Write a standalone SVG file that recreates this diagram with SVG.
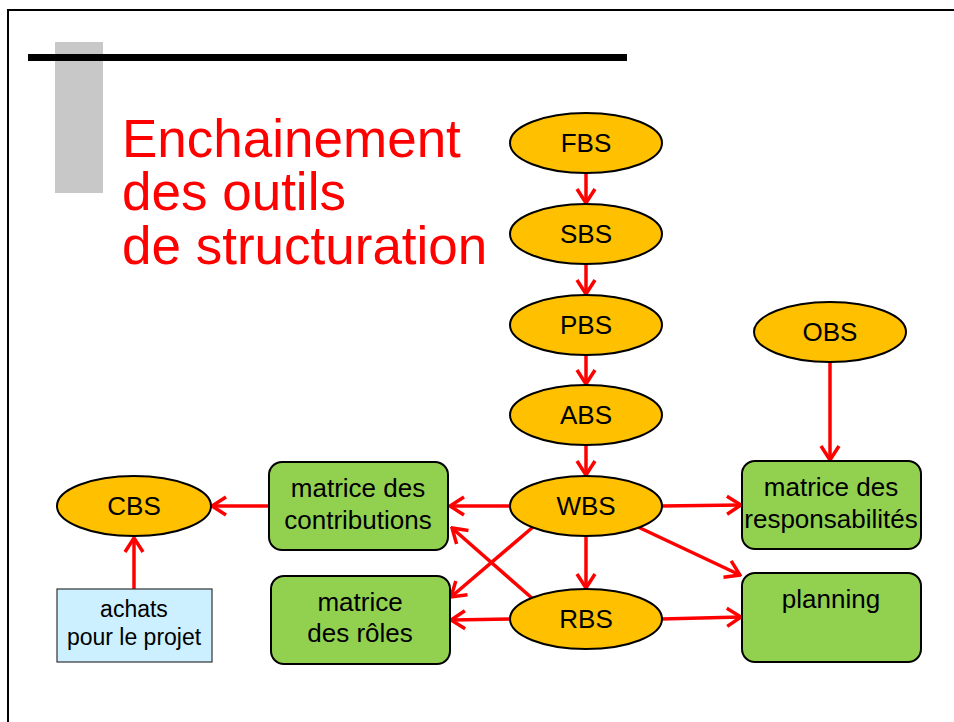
<svg xmlns="http://www.w3.org/2000/svg" width="954" height="722" viewBox="0 0 954 722">
<defs>
<marker id="ah" markerUnits="userSpaceOnUse" viewBox="0 0 18 22" markerWidth="18" markerHeight="22" refX="16" refY="11" orient="auto">
<path d="M2,2 L16,11 L2,20" fill="none" stroke="#FF0000" stroke-width="3.5" stroke-linejoin="miter"/>
</marker>
<style>
.ell{fill:#FFC000;stroke:#000;stroke-width:2}
.box{fill:#92D050;stroke:#000;stroke-width:2}
.lbl{font-family:"Liberation Sans",Arial,Helvetica,sans-serif;font-size:26px;fill:#000;text-anchor:middle}
.small{font-size:23px}
.con{stroke:#FF0000;stroke-width:3.5;fill:none;marker-end:url(#ah)}
.title{font-family:"Liberation Sans",Arial,Helvetica,sans-serif;font-size:53px;fill:#FF0000}
</style>
</defs>
<rect x="0" y="0" width="954" height="722" fill="#fff"/>
<rect x="8" y="10" width="970" height="740" fill="none" stroke="#000" stroke-width="2"/>
<rect x="55" y="42" width="48" height="151" fill="#C8C8C8"/>
<rect x="28" y="54" width="599" height="7" fill="#000"/>
<g id="title">
<text class="title" x="122" y="157">Enchainement</text>
<text class="title" x="122" y="210">des outils</text>
<text class="title" x="122" y="264">de structuration</text>
</g>
<g id="connectors">
<line class="con" x1="586" y1="173" x2="586" y2="203"/>
<line class="con" x1="586" y1="264" x2="586" y2="294"/>
<line class="con" x1="586" y1="355" x2="586" y2="384"/>
<line class="con" x1="586" y1="445" x2="586" y2="475"/>
<line class="con" x1="830" y1="362" x2="830" y2="460"/>
<line class="con" x1="661" y1="506" x2="741" y2="505"/>
<line class="con" x1="638" y1="527" x2="740" y2="575"/>
<line class="con" x1="586" y1="537" x2="586" y2="588"/>
<line class="con" x1="510" y1="506" x2="450" y2="506"/>
<line class="con" x1="533" y1="527" x2="451" y2="597"/>
<line class="con" x1="533" y1="599" x2="452" y2="528"/>
<line class="con" x1="510" y1="619" x2="451" y2="620"/>
<line class="con" x1="661" y1="619" x2="741" y2="617"/>
<line class="con" x1="269" y1="506" x2="212" y2="506"/>
<line class="con" x1="134" y1="589" x2="134" y2="538"/>
</g>
<g id="FBS"><ellipse class="ell" cx="586" cy="143" rx="76" ry="30"/><text class="lbl" x="586" y="152">FBS</text></g>
<g id="SBS"><ellipse class="ell" cx="586" cy="234" rx="76" ry="30"/><text class="lbl" x="586" y="243">SBS</text></g>
<g id="PBS"><ellipse class="ell" cx="586" cy="325" rx="76" ry="30"/><text class="lbl" x="586" y="334">PBS</text></g>
<g id="ABS"><ellipse class="ell" cx="586" cy="415" rx="76" ry="30"/><text class="lbl" x="586" y="424">ABS</text></g>
<g id="WBS"><ellipse class="ell" cx="586" cy="506" rx="76" ry="30"/><text class="lbl" x="586" y="515">WBS</text></g>
<g id="RBS"><ellipse class="ell" cx="586" cy="619" rx="76" ry="30"/><text class="lbl" x="586" y="628">RBS</text></g>
<g id="OBS"><ellipse class="ell" cx="830" cy="332" rx="76" ry="30"/><text class="lbl" x="830" y="341">OBS</text></g>
<g id="CBS"><ellipse class="ell" cx="134" cy="506" rx="77" ry="30"/><text class="lbl" x="134" y="515">CBS</text></g>
<g id="responsabilites"><rect class="box" x="742" y="461" width="179" height="88" rx="13"/><text class="lbl" x="831" y="496">matrice des</text><text class="lbl" x="831" y="528">responsabilités</text></g>
<g id="planning"><rect class="box" x="742" y="573" width="179" height="89" rx="13"/><text class="lbl" x="831" y="608">planning</text></g>
<g id="contributions"><rect class="box" x="269" y="462" width="179" height="88" rx="13"/><text class="lbl" x="358" y="497">matrice des</text><text class="lbl" x="358" y="529">contributions</text></g>
<g id="roles"><rect class="box" x="271" y="576" width="179" height="88" rx="13"/><text class="lbl" x="360" y="611">matrice</text><text class="lbl" x="360" y="642">des rôles</text></g>
<g id="achats"><rect x="57" y="589" width="155" height="73" fill="#CCF0FF" stroke="#333" stroke-width="1.2"/><text class="lbl small" x="134" y="617">achats</text><text class="lbl small" x="134" y="645">pour le projet</text></g>
</svg>
